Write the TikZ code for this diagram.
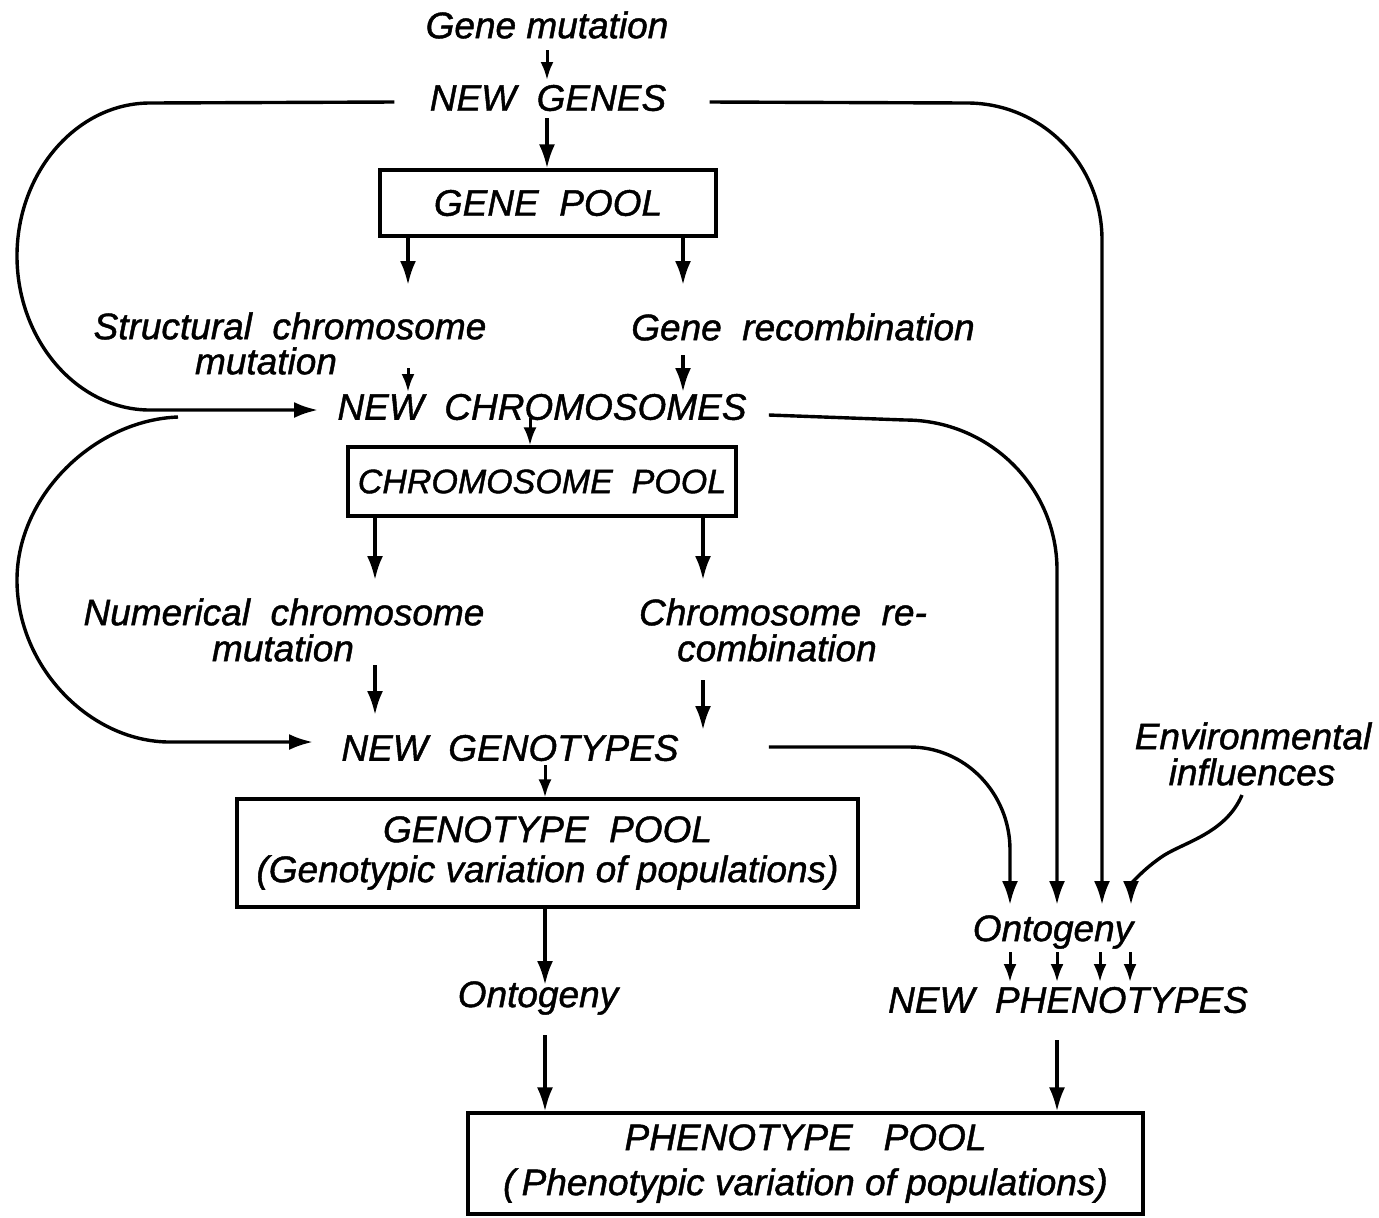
\documentclass[tikz,border=0pt]{standalone}
\usepackage{fontspec}
\setmainfont{Liberation Sans}[ItalicFeatures={FakeBold=1.2}]
\usetikzlibrary{arrows.meta}
\begin{document}
\begin{tikzpicture}[x=0.5pt,y=-0.5pt,
  lbl/.style={font=\itshape\fontsize{18.5}{20}\selectfont, inner sep=0pt},
  pool/.style={draw, line width=1.6pt, inner sep=0pt, align=center,
               font=\itshape\fontsize{18.5}{20}\selectfont},
  ln/.style={line width=1.7pt},
  arr/.style={line width=1.7pt, -{Latex[length=12pt,width=8pt]}},
  sarr/.style={line width=1.5pt, -{Latex[length=9pt,width=6.5pt]}}]
\useasboundingbox (0,0) rectangle (1379,1217);

% ---------- text nodes ----------
\node[lbl] (gm)  at (547,25)  {Gene mutation};
\node[lbl] (ng)  at (548,98)  {NEW\ \ GENES};
\node[pool, minimum width=168pt, minimum height=33pt] (gp) at (548,203) {GENE\ \ POOL};
\node[lbl] (sc1) at (290,326) {Structural\ \ chromosome};
\node[lbl] (sc2) at (266,361) {mutation};
\node[lbl] (gr)  at (803,327) {Gene\ \ recombination};
\node[lbl] (nc)  at (542,407) {NEW\ \ CHROMOSOMES};
\node[pool, minimum width=194pt, minimum height=34.5pt,
      font=\itshape\fontsize{17}{20}\selectfont] (cp) at (542,481.5) {CHROMOSOME\ \ POOL};
\node[lbl] (nm1) at (284,612) {Numerical\ \ chromosome};
\node[lbl] (nm2) at (283,648) {mutation};
\node[lbl] (cr1) at (783,612) {Chromosome\ \ re-};
\node[lbl] (cr2) at (777,648) {combination};
\node[lbl] (ngt) at (510,748) {NEW\ \ GENOTYPES};
\node[pool, minimum width=310.5pt, minimum height=54pt] (gtp) at (547.5,853)
  {GENOTYPE\ \ POOL\\(Genotypic variation of populations)};
\node[lbl] (on1) at (538,998) {Ontogeny};
\node[lbl] (env1) at (1253,736) {Environmental};
\node[lbl] (env2) at (1252,772) {influences};
\node[lbl] (on2) at (1053,932) {Ontogeny};
\node[lbl] (np)  at (1068,1000) {NEW\ \ PHENOTYPES};
\node[pool, minimum width=337.5pt, minimum height=50.5pt,
      font=\itshape\fontsize{18.5}{22.5}\selectfont] (ptp) at (805.5,1163.5)
  {PHENOTYPE\ \ \ POOL\\(\,Phenotypic variation of populations)};

% ---------- free-end coordinates ----------
\coordinate (a1) at (547,50);   \coordinate (a1e) at (547,80);
\coordinate (a2) at (547,118);
\coordinate (gL) at (408,285);  \coordinate (gR) at (683,285);
\coordinate (sL) at (408,368);  \coordinate (sLe) at (408,392);
\coordinate (sR) at (683,355);  \coordinate (sRe) at (683,392);
\coordinate (c1) at (530,418);
\coordinate (cL) at (375,580);  \coordinate (cR) at (703,580);
\coordinate (nL) at (375,665);  \coordinate (nLe) at (375,715);
\coordinate (nR) at (703,680);  \coordinate (nRe) at (703,730);
\coordinate (g1) at (545,765);
\coordinate (o1) at (545,918);  \coordinate (o1e) at (545,985);
\coordinate (o2) at (545,1035);
\coordinate (p1) at (1057,1040);
\coordinate (t1) at (1010,905); \coordinate (t2) at (1057,905);
\coordinate (t3) at (1102,905); \coordinate (t4) at (1131,905);

% ---------- straight arrows ----------
\draw[sarr] (a1) -- (a1e);
\draw[arr] (a2) -- (gp.north -| a2);
\draw[arr] (gp.south -| gL) -- (gL);
\draw[arr] (gp.south -| gR) -- (gR);
\draw[sarr] (sL) -- (sLe);
\draw[arr] (sR) -- (sRe);
\draw[sarr] (c1) -- (cp.north -| c1);
\draw[arr] (cp.south -| cL) -- (cL);
\draw[arr] (cp.south -| cR) -- (cR);
\draw[arr] (nL) -- (nLe);
\draw[arr] (nR) -- (nRe);
\draw[sarr] (g1) -- (gtp.north -| g1);
\draw[arr] (gtp.south -| o1) -- (o1e);
\draw[arr] (o2) -- (ptp.north -| o2);
\draw[arr] (p1) -- (ptp.north -| p1);
\foreach \x in {1010,1057,1100,1130}
  \draw[sarr] (\x,952) -- (\x,982);

% ---------- curved connectors ----------
\draw[arr] (ng.west) ++(-35,4) -- (150,103)
  .. controls (77,103) and (17,172) .. (17,256)
  .. controls (17,340) and (77,410) .. (150,410) -- (318,410);
\draw[arr] (178,417)
  .. controls (95,420) and (17,495) .. (17,580)
  .. controls (17,667) and (90,742) .. (170,742) -- (313,742);
\draw[arr] (ng.east) ++(43,4) -- (967,103)
  .. controls (1042,103) and (1102,164) .. (1102,240) -- (t3);
\draw[arr] (nc.east) ++(22,8) -- (905,420)
  .. controls (989,420) and (1057,487) .. (1057,570) -- (t2);
\draw[arr] (ngt.east) ++(90,-1) -- (910,747)
  .. controls (965,747) and (1010,793) .. (1010,850) -- (t1);
\draw[arr] (1242,795) .. controls (1225,835) and (1180,843) .. (1160,858)
  .. controls (1140,872) and (1131,885) .. (t4);
\end{tikzpicture}
\end{document}
